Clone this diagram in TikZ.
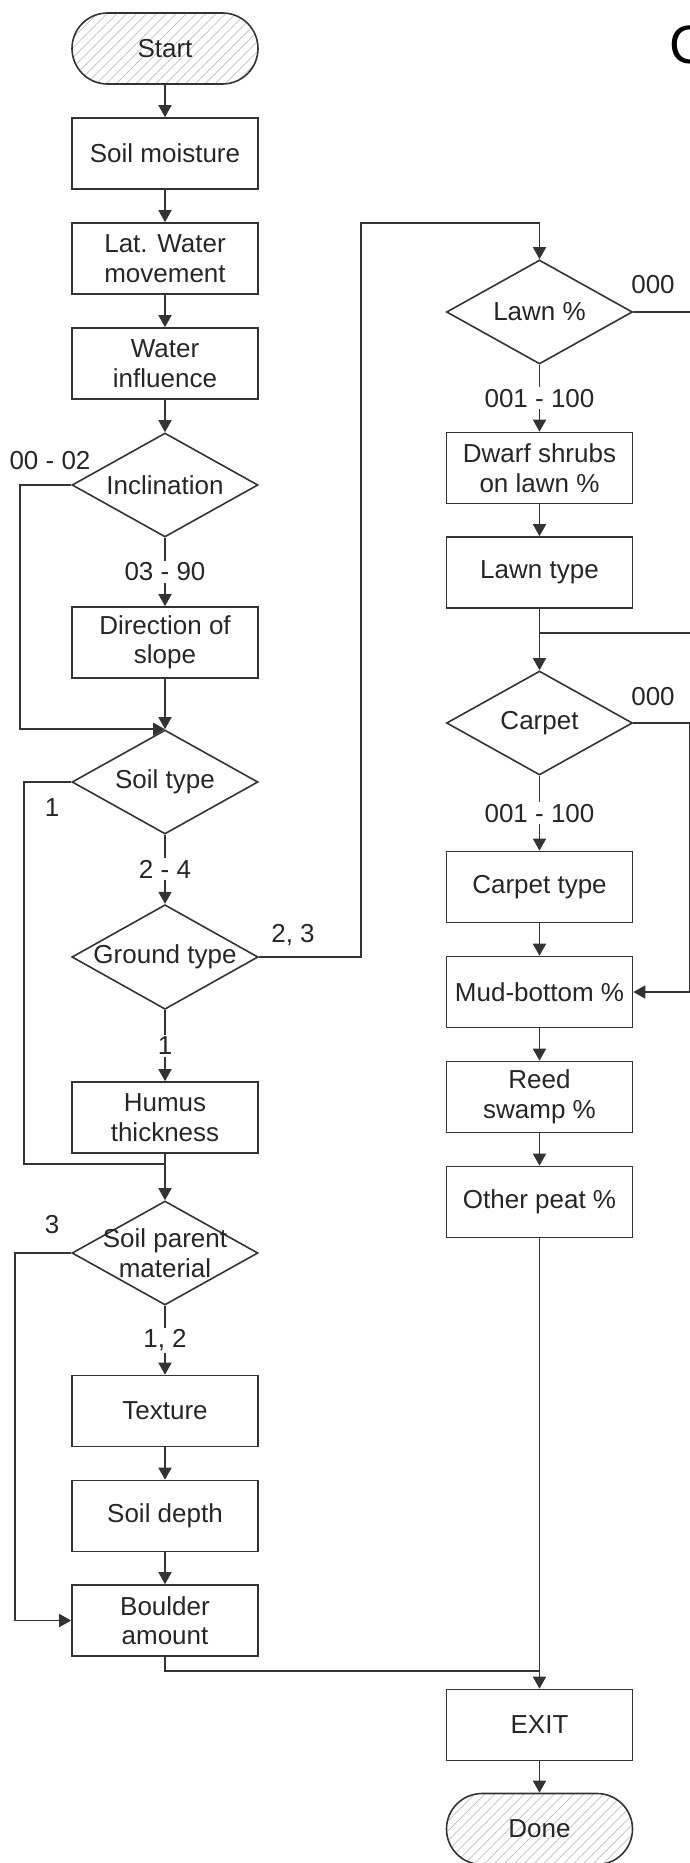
\documentclass[tikz,border=0pt]{standalone}
\usepackage{fontspec}
\setmainfont{Liberation Sans}
\usetikzlibrary{shapes.geometric,shapes.misc,arrows.meta,patterns.meta}

\begin{document}
\begin{tikzpicture}[x=1pt,y=-1pt,line width=1.6pt,color=black!80,text=black!85,
  font=\fontsize{26}{29.5}\selectfont,
  blk/.style={draw,rectangle,minimum width=186pt,minimum height=71pt,inner sep=0pt,align=center},
  dec/.style={draw,diamond,aspect=1.78,minimum width=186pt,minimum height=104pt,inner sep=0pt,align=center},
  term/.style={draw,rounded rectangle,minimum width=186pt,minimum height=71pt,inner sep=0pt,
    pattern={Lines[angle=45,distance=7pt,line width=0.7pt]},pattern color=black!25},
  lbl/.style={fill=white,inner sep=2pt},
  txt/.style={inner sep=0pt},
  arr/.style={-{Triangle[length=12pt,width=13pt]}}]
\useasboundingbox (0,0) rectangle (690,1863);

\node[txt,anchor=west,text=black,font=\fontsize{54}{60}\selectfont] (ttl) at (669,45) {C};

\node[term] (start) at (165,48.5) {Start};
\node[blk] (smoist) at (165,153.5) {Soil moisture};
\node[blk] (latwat) at (165,258.5) {Lat. Water\\movement};
\node[blk] (winfl) at (165,363.5) {Water\\influence};
\node[dec] (incl) at (165,485) {Inclination};
\node[blk] (dirsl) at (165,642.5) {Direction of\\slope};
\node[dec] (soilt) at (165,782) {Soil type};
\node[dec] (groundt) at (165,957) {Ground type};
\node[blk] (humus) at (165,1117.5) {Humus\\thickness};
\node[dec,label={[align=center]center:Soil parent\\material}] (spm) at (165,1253) {};
\node[blk] (texture) at (165,1411) {Texture};
\node[blk] (sdepth) at (165,1516) {Soil depth};
\node[blk] (boulder) at (165,1620.5) {Boulder\\amount};

\node[dec] (lawn) at (539.5,312) {Lawn \%};
\node[blk] (dwarf) at (539.5,468) {Dwarf shrubs\\on lawn \%};
\node[blk] (lawnt) at (539.5,572.5) {Lawn type};
\node[dec] (carpet) at (539.5,723) {Carpet};
\node[blk] (carpt) at (539.5,887) {Carpet type};
\node[blk] (mud) at (539.5,992) {Mud-bottom \%};
\node[blk] (reed) at (539.5,1097) {Reed\\swamp \%};
\node[blk] (opeat) at (539.5,1202) {Other peat \%};
\node[blk] (exit) at (539.5,1725) {EXIT};
\node[term] (done) at (539.5,1829) {Done};

\coordinate (sjoin) at (165,1164);
\coordinate (ljoin) at (539.5,633);
\coordinate (ejoin) at (539.5,1671);
\coordinate (gturn) at (361,223);

\draw[arr] (start) -- (smoist);
\draw[arr] (smoist) -- (latwat);
\draw[arr] (latwat) -- (winfl);
\draw[arr] (winfl) -- (incl);
\draw[arr] (incl) -- node[lbl] (l0390) {03 - 90} (dirsl);
\draw[arr] (incl.west) -- ++(-51,0) |- (soilt.north);
\draw[arr] (dirsl) -- (soilt);
\draw (soilt.west) -- ++(-47,0) |- (sjoin);
\draw[arr] (soilt) -- node[lbl] (l24) {2 - 4} (groundt);
\draw[arr] (groundt) -- node[lbl] (l1b) {1} (humus);
\draw[arr] (groundt.east) -| (gturn) -| (lawn.north);
\draw[arr] (humus) -- (spm);
\draw[arr] (spm) -- node[lbl] (l12) {1, 2} (texture);
\draw[arr] (spm.west) -- ++(-56,0) |- (boulder.west);
\draw[arr] (texture) -- (sdepth);
\draw[arr] (sdepth) -- (boulder);
\draw (boulder.south) |- (ejoin);

\draw[arr] (lawn) -- node[lbl] (l001a) {001 - 100} (dwarf);
\draw (lawn.east) -- ++(57,0) |- (ljoin);
\draw[arr] (dwarf) -- (lawnt);
\draw[arr] (lawnt) -- (carpet);
\draw[arr] (carpet) -- node[lbl] (l001b) {001 - 100} (carpt);
\draw[arr] (carpet.east) -- ++(56,0) |- (mud.east);
\draw[arr] (carpt) -- (mud);
\draw[arr] (mud) -- (reed);
\draw[arr] (reed) -- (opeat);
\draw[arr] (opeat) -- (exit);
\draw[arr] (exit) -- (done);

\node[txt] (l0002) at (50,461) {00 - 02};
\node[txt] (l1a) at (52,808) {1};
\node[txt] (l23) at (293,935) {2, 3};
\node[txt] (l3) at (52,1225) {3};
\node[txt] (l000a) at (653,285) {000};
\node[txt] (l000b) at (653,697) {000};
\end{tikzpicture}
\end{document}
